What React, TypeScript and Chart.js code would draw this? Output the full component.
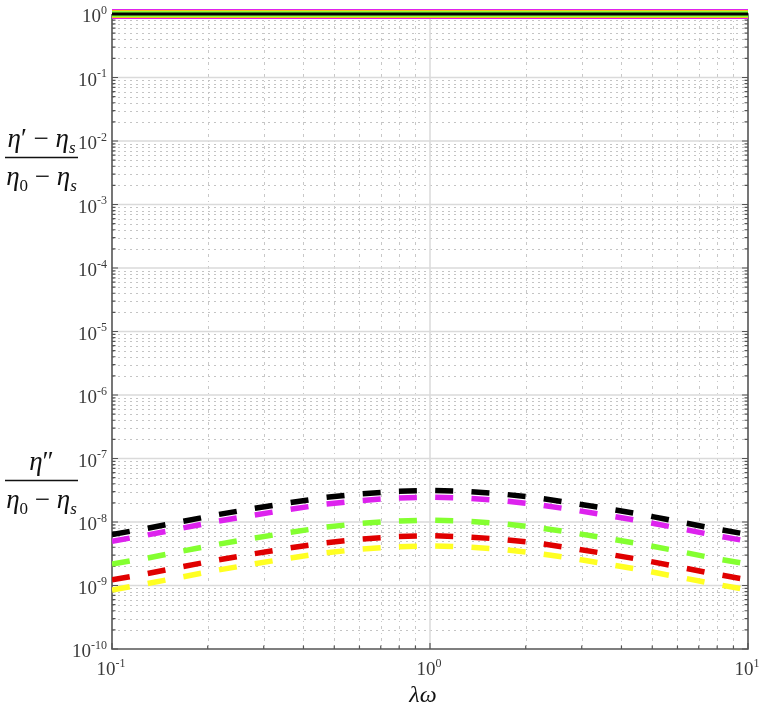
import { useEffect, useRef } from "react";
import { Chart, registerables } from "chart.js";

Chart.register(...registerables);

// λω sample points (log-spaced)
const lambdaOmega = [0.1, 0.1292, 0.1668, 0.2154, 0.2783, 0.3594, 0.4642, 0.5995, 0.7743, 1.0, 1.2915, 1.6681, 2.1544, 2.7826, 3.5938, 4.6416, 5.9948, 7.7426, 10];

// η'' / (η0 − ηs) for five cases (dashed curves)
const lossBlack = [6.35e-9, 7.96e-9, 1.02e-8, 1.31e-8, 1.63e-8, 2.0e-8, 2.42e-8, 2.77e-8, 3.03e-8, 3.14e-8, 3.03e-8, 2.77e-8, 2.42e-8, 2.0e-8, 1.63e-8, 1.31e-8, 1.02e-8, 7.96e-9, 6.35e-9];
const lossMagenta = [4.98e-9, 6.25e-9, 8.03e-9, 1.03e-8, 1.28e-8, 1.57e-8, 1.9e-8, 2.17e-8, 2.38e-8, 2.47e-8, 2.38e-8, 2.17e-8, 1.9e-8, 1.57e-8, 1.28e-8, 1.03e-8, 8.03e-9, 6.25e-9, 4.98e-9];
const lossGreen = [2.17e-9, 2.71e-9, 3.49e-9, 4.46e-9, 5.55e-9, 6.83e-9, 8.24e-9, 9.46e-9, 1.03e-8, 1.07e-8, 1.03e-8, 9.46e-9, 8.24e-9, 6.83e-9, 5.55e-9, 4.46e-9, 3.49e-9, 2.71e-9, 2.17e-9];
const lossRed = [1.23e-9, 1.54e-9, 1.98e-9, 2.53e-9, 3.15e-9, 3.88e-9, 4.68e-9, 5.37e-9, 5.86e-9, 6.08e-9, 5.86e-9, 5.37e-9, 4.68e-9, 3.88e-9, 3.15e-9, 2.53e-9, 1.98e-9, 1.54e-9, 1.23e-9];
const lossYellow = [8.5e-10, 1.07e-9, 1.37e-9, 1.75e-9, 2.18e-9, 2.69e-9, 3.24e-9, 3.72e-9, 4.06e-9, 4.21e-9, 4.06e-9, 3.72e-9, 3.24e-9, 2.69e-9, 2.18e-9, 1.75e-9, 1.37e-9, 1.07e-9, 8.5e-10];

// (η' − ηs) / (η0 − ηs) for the same cases (solid lines at 1)
const storageRatio = [1, 1, 1, 1, 1, 1, 1, 1, 1, 1, 1, 1, 1, 1, 1, 1, 1, 1, 1];

// tick exponents
const yTickExponents = [-10, -9, -8, -7, -6, -5, -4, -3, -2, -1, 0];
const xTickExponents = [-1, 0, 1];
const minorMultipliers = [2, 3, 4, 5, 6, 7, 8, 9];

const colorBlack = "#000000";
const colorMagenta = "#dd22ee";
const colorGreen = "#84ff30";
const colorRed = "#e00000";
const colorYellow = "#ffff22";

const SERIF = '"Liberation Serif", "DejaVu Serif", serif';

type Run = { t: string; font: string; dy?: number };

function drawRuns(ctx: CanvasRenderingContext2D, runs: Run[], cx: number, baseline: number) {
  let total = 0;
  const widths: number[] = [];
  for (const r of runs) {
    ctx.font = r.font;
    const w = ctx.measureText(r.t).width;
    widths.push(w);
    total += w;
  }
  let x = cx - total / 2;
  ctx.textAlign = "left";
  ctx.textBaseline = "alphabetic";
  runs.forEach((r, i) => {
    ctx.font = r.font;
    ctx.fillText(r.t, x, baseline + (r.dy || 0));
    x += widths[i];
  });
}

function drawPow(ctx: CanvasRenderingContext2D, exp: number, anchorX: number, align: "right" | "center", baseBaseline: number, supBaseline: number) {
  const baseFont = `19px ${SERIF}`;
  const supFont = `12px ${SERIF}`;
  const sup = String(exp);
  ctx.font = baseFont;
  const wb = ctx.measureText("10").width;
  ctx.font = supFont;
  const ws = ctx.measureText(sup).width;
  const start = align === "right" ? anchorX - wb - ws : anchorX - (wb + ws) / 2;
  ctx.textAlign = "left";
  ctx.textBaseline = "alphabetic";
  ctx.font = baseFont;
  ctx.fillText("10", start, baseBaseline);
  ctx.font = supFont;
  ctx.fillText(sup, start + wb, supBaseline);
}

const decorPlugin = {
  id: "decor",
  beforeDatasetsDraw(chart: any) {
    const { ctx, chartArea: a, scales } = chart;
    const xs = scales.x;
    const ys = scales.y;
    ctx.save();
    // minor horizontal grid
    ctx.strokeStyle = "#c4c4c4";
    ctx.lineWidth = 1;
    ctx.setLineDash([2, 4]);
    for (const e of yTickExponents) {
      if (e >= 0) continue;
      for (const m of minorMultipliers) {
        const py = Math.round(ys.getPixelForValue(m * Math.pow(10, e))) + 0.5;
        ctx.beginPath();
        ctx.moveTo(a.left, py);
        ctx.lineTo(a.right, py);
        ctx.stroke();
      }
    }
    // minor vertical grid
    ctx.strokeStyle = "#c8c8c8";
    ctx.setLineDash([3, 4, 1, 4]);
    for (const e of xTickExponents) {
      if (e >= 1) continue;
      for (const m of minorMultipliers) {
        const px = Math.round(xs.getPixelForValue(m * Math.pow(10, e))) + 0.5;
        ctx.beginPath();
        ctx.moveTo(px, a.top);
        ctx.lineTo(px, a.bottom);
        ctx.stroke();
      }
    }
    // major grid
    ctx.setLineDash([]);
    ctx.strokeStyle = "#dadada";
    ctx.lineWidth = 1.5;
    for (const e of yTickExponents) {
      if (e === -10 || e === 0) continue;
      const py = ys.getPixelForValue(Math.pow(10, e));
      ctx.beginPath();
      ctx.moveTo(a.left, py);
      ctx.lineTo(a.right, py);
      ctx.stroke();
    }
    for (const e of xTickExponents) {
      if (e === -1 || e === 1) continue;
      const px = xs.getPixelForValue(Math.pow(10, e));
      ctx.beginPath();
      ctx.moveTo(px, a.top);
      ctx.lineTo(px, a.bottom);
      ctx.stroke();
    }
    // axes
    ctx.strokeStyle = "#555555";
    ctx.lineWidth = 1.6;
    ctx.beginPath();
    ctx.moveTo(a.left, a.top);
    ctx.lineTo(a.left, a.bottom);
    ctx.lineTo(a.right, a.bottom);
    ctx.lineTo(a.right, a.top);
    ctx.lineTo(a.left, a.top);
    ctx.stroke();
    // tick marks (inside)
    ctx.lineWidth = 1.2;
    for (const e of yTickExponents) {
      const vals = [Math.pow(10, e)];
      if (e < 0) for (const m of minorMultipliers) vals.push(m * Math.pow(10, e));
      vals.forEach((v, i) => {
        const len = i === 0 ? 6 : 3.5;
        const py = ys.getPixelForValue(v);
        ctx.beginPath();
        ctx.moveTo(a.left, py);
        ctx.lineTo(a.left + len, py);
        ctx.moveTo(a.right, py);
        ctx.lineTo(a.right - len, py);
        ctx.stroke();
      });
    }
    for (const e of xTickExponents) {
      const vals = [Math.pow(10, e)];
      if (e < 1) for (const m of minorMultipliers) vals.push(m * Math.pow(10, e));
      vals.forEach((v, i) => {
        const len = i === 0 ? 6 : 3.5;
        const px = xs.getPixelForValue(v);
        ctx.beginPath();
        ctx.moveTo(px, a.bottom);
        ctx.lineTo(px, a.bottom - len);
        ctx.stroke();
      });
    }
    ctx.restore();
  },
  afterDraw(chart: any) {
    const { ctx, chartArea: a, scales } = chart;
    const xs = scales.x;
    const ys = scales.y;
    ctx.save();
    ctx.fillStyle = "#3a3a3a";
    for (const e of yTickExponents) {
      const py = ys.getPixelForValue(Math.pow(10, e));
      drawPow(ctx, e, a.left - 5, "right", py + 8, py - 0.5);
    }
    for (const e of xTickExponents) {
      const px = xs.getPixelForValue(Math.pow(10, e));
      drawPow(ctx, e, px - 1, "center", a.bottom + 26, a.bottom + 18);
    }
    // x axis title
    ctx.fillStyle = "#111111";
    drawRuns(ctx, [{ t: "λω", font: `italic 24px ${SERIF}` }], 423, 702);

    // y axis fraction labels
    const it = `italic 27px ${SERIF}`;
    const up = `27px ${SERIF}`;
    const sub = `italic 17px ${SERIF}`;
    const subUp = `17px ${SERIF}`;
    const denom: Run[] = [
      { t: "η", font: it },
      { t: "0", font: subUp, dy: 6 },
      { t: " − ", font: up },
      { t: "η", font: it },
      { t: "s", font: sub, dy: 6 },
    ];
    const fracCx = 41.5;
    // top fraction
    drawRuns(ctx, [
      { t: "η", font: it },
      { t: "′", font: up },
      { t: " − ", font: up },
      { t: "η", font: it },
      { t: "s", font: sub, dy: 6 },
    ], fracCx, 147);
    ctx.strokeStyle = "#111111";
    ctx.lineWidth = 1.5;
    ctx.beginPath();
    ctx.moveTo(5, 157.5);
    ctx.lineTo(78, 157.5);
    ctx.stroke();
    drawRuns(ctx, denom, fracCx, 185);
    // bottom fraction
    drawRuns(ctx, [
      { t: "η", font: it },
      { t: "″", font: up },
    ], fracCx, 470);
    ctx.beginPath();
    ctx.moveTo(5, 480.5);
    ctx.lineTo(78, 480.5);
    ctx.stroke();
    drawRuns(ctx, denom, fracCx, 508);
    ctx.restore();
  },
};

function pts(values: number[]) {
  return lambdaOmega.map((x, i) => ({ x, y: values[i] }));
}

export default function App() {
  const ref = useRef<HTMLCanvasElement | null>(null);
  useEffect(() => {
    if (!ref.current) return;
    const dashed = (label: string, values: number[], color: string) => ({
      label,
      data: pts(values),
      borderColor: color,
      backgroundColor: color,
      borderWidth: 5.5,
      borderDash: [18, 18.3],
      borderCapStyle: "butt" as const,
      pointRadius: 0,
      tension: 0,
      fill: false,
    });
    const solid = (label: string, color: string, width: number) => ({
      label,
      data: pts(storageRatio),
      borderColor: color,
      backgroundColor: color,
      borderWidth: width,
      pointRadius: 0,
      tension: 0,
      fill: false,
      clip: false as const,
    });
    const chart = new Chart(ref.current, {
      type: "line",
      data: {
        datasets: [
          dashed("η'' black", lossBlack, colorBlack),
          dashed("η'' magenta", lossMagenta, colorMagenta),
          dashed("η'' green", lossGreen, colorGreen),
          dashed("η'' red", lossRed, colorRed),
          dashed("η'' yellow", lossYellow, colorYellow),
          solid("η' black", colorBlack, 3),
          solid("η' green", colorGreen, 6),
          solid("η' red", colorRed, 6.5),
          solid("η' yellow", colorYellow, 8),
          solid("η' magenta", colorMagenta, 10),
        ] as any,
      },
      options: {
        responsive: false,
        animation: false,
        events: [],
        layout: { padding: { top: 14, right: 13, left: 0, bottom: 0 } },
        plugins: { legend: { display: false }, tooltip: { enabled: false } },
        scales: {
          x: {
            type: "logarithmic",
            min: 0.1,
            max: 10,
            grid: { display: false, drawTicks: false },
            border: { display: false },
            ticks: { display: false },
            afterFit: (s: any) => {
              s.height = 62;
            },
          },
          y: {
            type: "logarithmic",
            min: 1e-10,
            max: 1,
            grid: { display: false, drawTicks: false },
            border: { display: false },
            ticks: { display: false },
            afterFit: (s: any) => {
              s.width = 112;
            },
          },
        },
      } as any,
      plugins: [decorPlugin],
    });
    return () => chart.destroy();
  }, []);
  return (
    <div style={{ position: "fixed", left: 0, top: 0, width: 761, height: 711, background: "#ffffff" }}>
      <canvas ref={ref} width={761} height={711} style={{ display: "block" }} />
    </div>
  );
}
